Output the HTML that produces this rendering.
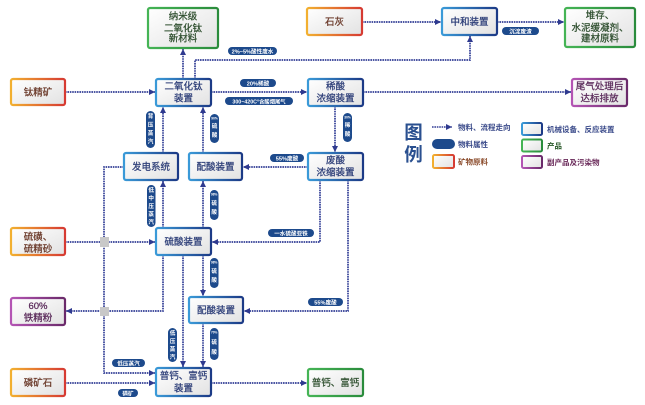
<!DOCTYPE html>
<html><head><meta charset="utf-8">
<style>
html,body{margin:0;padding:0;background:#fff;}
svg{display:block;}
.t{font-family:"Liberation Sans","Noto Sans CJK SC",sans-serif;}
</style></head>
<body>
<svg class="t" width="645" height="405" viewBox="0 0 645 405" xmlns="http://www.w3.org/2000/svg">
<defs>
<linearGradient id="gB" x1="0" y1="0" x2="1" y2="0"><stop offset="0" stop-color="#3a9ad8"/><stop offset="1" stop-color="#1c3a86"/></linearGradient>
<linearGradient id="gG" x1="0" y1="0" x2="1" y2="0"><stop offset="0" stop-color="#45b455"/><stop offset="1" stop-color="#2a8c3c"/></linearGradient>
<linearGradient id="gO" x1="0" y1="0" x2="1" y2="0"><stop offset="0" stop-color="#f2b030"/><stop offset="1" stop-color="#d63a32"/></linearGradient>
<linearGradient id="gP" x1="0" y1="0" x2="1" y2="0"><stop offset="0" stop-color="#b455b4"/><stop offset="1" stop-color="#6a2a6a"/></linearGradient>
<linearGradient id="gF" x1="0" y1="0" x2="1" y2="1"><stop offset="0" stop-color="#ffffff"/><stop offset="1" stop-color="#e2e2e2"/></linearGradient>
<marker id="a" viewBox="0 0 6 6" refX="6" refY="3" markerWidth="6" markerHeight="6" markerUnits="userSpaceOnUse" orient="auto"><path d="M0,0 L6,3 L0,6 z" fill="#2f3a8f"/></marker>
</defs>

<!-- connectors -->
<g fill="none" stroke="#333f96" stroke-width="1.7" stroke-dasharray="1.6 0.8" marker-end="url(#a)">
<path d="M65 92 H155"/>
<path d="M183 79 V49"/>
<path d="M195 79 V60 H470 V36"/>
<path d="M362 22 H441"/>
<path d="M497 22 H564"/>
<path d="M211 92 H307"/>
<path d="M363 92 H571"/>
<path d="M335 106 V152"/>
<path d="M308 167 H243"/>
<path d="M203 153 V107"/>
<path d="M163 153 V107"/>
<path d="M163 228 V181"/>
<path d="M203 228 V181"/>
<path d="M124 167 H104 V373 H155"/>
<path d="M65 242 H155"/>
<path d="M320 180 V242 H212"/>
<path d="M348 180 V311 H244"/>
<path d="M203 255 V296"/>
<path d="M163 255 V311 H66"/>
<path d="M183 255 V367"/>
<path d="M203 323 V367"/>
<path d="M65 383 H155"/>
<path d="M211 383 H307"/>
</g>
<rect x="100" y="237" width="9" height="10" fill="#c8c8c8"/>
<rect x="100" y="307" width="9" height="9" fill="#c8c8c8"/>

<!-- boxes -->
<g fill="url(#gF)" stroke-width="2.2">
<rect x="148" y="8" width="70" height="40" rx="2" stroke="url(#gG)"/>
<rect x="11" y="79" width="54" height="26" rx="2" stroke="url(#gO)"/>
<rect x="156" y="79" width="55" height="27" rx="2" stroke="url(#gB)"/>
<rect x="307" y="8" width="55" height="27" rx="2" stroke="url(#gO)"/>
<rect x="442" y="8" width="55" height="27" rx="2" stroke="url(#gB)"/>
<rect x="565" y="8" width="70" height="39" rx="2" stroke="url(#gG)"/>
<rect x="308" y="79" width="55" height="27" rx="2" stroke="url(#gB)"/>
<rect x="572" y="79" width="55" height="27" rx="2" stroke="url(#gP)"/>
<rect x="124" y="153" width="54" height="27" rx="2" stroke="url(#gB)"/>
<rect x="189" y="153" width="53" height="27" rx="2" stroke="url(#gB)"/>
<rect x="308" y="153" width="55" height="27" rx="2" stroke="url(#gB)"/>
<rect x="11" y="228" width="54" height="27" rx="2" stroke="url(#gO)"/>
<rect x="156" y="228" width="55" height="27" rx="2" stroke="url(#gB)"/>
<rect x="11" y="298" width="54" height="27" rx="2" stroke="url(#gP)"/>
<rect x="189" y="297" width="54" height="26" rx="2" stroke="url(#gB)"/>
<rect x="11" y="369" width="54" height="27" rx="2" stroke="url(#gO)"/>
<rect x="156" y="368" width="55" height="28" rx="2" stroke="url(#gB)"/>
<rect x="308" y="369" width="55" height="27" rx="2" stroke="url(#gG)"/>
</g>

<!-- box text -->
<g font-size="9.5" text-anchor="middle" stroke-width="0.25">
<g fill="#2e4e2e" stroke="#2e4e2e">
<text x="183" y="19.5">纳米级</text><text x="183" y="31.5">二氧化钛</text><text x="183" y="41.5">新材料</text>
<text x="600" y="18.5">堆存、</text><text x="600" y="31">水泥缓凝剂、</text><text x="600" y="41.5">建材原料</text>
<text x="335.5" y="386">普钙、富钙</text>
</g>
<g fill="#6b3a2a" stroke="#6b3a2a">
<text x="38" y="95.5">钛精矿</text>
<text x="334.5" y="25">石灰</text>
<text x="38" y="240">硫磺、</text><text x="38" y="252">硫精砂</text>
<text x="38" y="386">磷矿石</text>
</g>
<g fill="#5a2a5a" stroke="#5a2a5a">
<text x="599.5" y="89.5">尾气处理后</text><text x="599.5" y="101.5">达标排放</text>
<text x="38" y="309">60%</text><text x="38" y="321">铁精粉</text>
</g>
<g fill="#2d3e78" stroke="#2d3e78">
<text x="183.5" y="89.5">二氧化钛</text><text x="183.5" y="101.5">装置</text>
<text x="469.5" y="25">中和装置</text>
<text x="335.5" y="89.5">稀酸</text><text x="335.5" y="101.5">浓缩装置</text>
<text x="151" y="170">发电系统</text>
<text x="215.5" y="170">配酸装置</text>
<text x="335.5" y="163.5">废酸</text><text x="335.5" y="175.5">浓缩装置</text>
<text x="183.5" y="245">硫酸装置</text>
<text x="216" y="313.5">配酸装置</text>
<text x="183.5" y="379">普钙、富钙</text><text x="183.5" y="391.5">装置</text>
</g>
</g>

<!-- pills -->
<g fill="#1d4a8c">
<rect x="228" y="47" width="49" height="8" rx="4"/>
<rect x="502" y="27" width="37" height="8" rx="4"/>
<rect x="240" y="79" width="36" height="8" rx="4"/>
<rect x="225" y="97" width="68" height="8" rx="4"/>
<rect x="343" y="113" width="9" height="29" rx="4.5"/>
<rect x="270" y="154" width="34" height="8" rx="4"/>
<rect x="210" y="114" width="9" height="29" rx="4.5"/>
<rect x="146" y="111" width="9" height="37" rx="4.5"/>
<rect x="147" y="185" width="8.5" height="42" rx="4.2"/>
<rect x="210" y="190" width="8.5" height="30" rx="4.2"/>
<rect x="268" y="229" width="46" height="8" rx="4"/>
<rect x="308" y="298" width="35" height="8" rx="4"/>
<rect x="210" y="258" width="8.5" height="30" rx="4.2"/>
<rect x="168" y="328" width="9" height="34" rx="4.5"/>
<rect x="210" y="328" width="8.5" height="32" rx="4.2"/>
<rect x="112" y="359" width="33" height="8" rx="4"/>
<rect x="118" y="389" width="20" height="8" rx="4"/>
</g>
<g fill="#ffffff" font-size="5.6" font-weight="bold" text-anchor="middle">
<text x="252.5" y="53.3">2%~5%酸性废水</text>
<text x="520.5" y="33.3">沉淀废渣</text>
<text x="258" y="85.3">20%稀酸</text>
<text x="259" y="103.3" font-size="5.3">300~420C°含酸烟尾气</text>
<text x="287" y="160.3">55%废酸</text>
<text x="291" y="235.3">一水硫酸亚铁</text>
<text x="325.5" y="304.3">55%废酸</text>
<text x="128.5" y="365.3">低压蒸汽</text>
<text x="128" y="395.3">磷矿</text>
<!-- vertical -->
<g font-size="3.2"><text x="347.5" y="118.5">30%</text><text x="214.5" y="119.5">90%</text><text x="214.2" y="195.5">98%</text><text x="214.2" y="263.5">98%</text><text x="214.2" y="333.5">70%</text></g>
<text x="347.5" y="127">稀</text><text x="347.5" y="136">酸</text>
<text x="214.5" y="128">硫</text><text x="214.5" y="137">酸</text>
<text x="150.5" y="118">背</text><text x="150.5" y="126.5">压</text><text x="150.5" y="135">蒸</text><text x="150.5" y="143.5">汽</text>
<text x="151.2" y="192">低</text><text x="151.2" y="200">中</text><text x="151.2" y="208">压</text><text x="151.2" y="216">蒸</text><text x="151.2" y="224">汽</text>
<text x="214.2" y="205">硫</text><text x="214.2" y="214">酸</text>
<text x="214.2" y="273">硫</text><text x="214.2" y="282">酸</text>
<text x="172.5" y="335">低</text><text x="172.5" y="343">压</text><text x="172.5" y="351">蒸</text><text x="172.5" y="359">汽</text>
<text x="214.2" y="344">硫</text><text x="214.2" y="354">酸</text>
</g>

<!-- legend -->
<g font-weight="bold" fill="#2a5090" text-anchor="middle" font-size="18.5">
<text x="413.5" y="139">图</text>
<text x="413.5" y="161">例</text>
</g>
<path d="M432 127 H452" fill="none" stroke="#333f96" stroke-width="1.4" stroke-dasharray="1.6 0.8" marker-end="url(#a)"/>
<rect x="432" y="139" width="23" height="10" rx="5" fill="#1d4a8c"/>
<g fill="url(#gF)" stroke-width="2">
<rect x="433" y="155" width="21" height="13" rx="1.5" stroke="url(#gO)"/>
<rect x="522" y="123" width="20" height="12" rx="1.5" stroke="url(#gB)"/>
<rect x="522" y="139.5" width="20" height="12" rx="1.5" stroke="url(#gG)"/>
<rect x="522" y="156" width="20" height="12" rx="1.5" stroke="url(#gP)"/>
</g>
<g font-size="7.5" font-weight="bold">
<text x="458" y="130" fill="#3a4a8a">物料、流程走向</text>
<text x="458" y="147" fill="#3a4a8a">物料属性</text>
<text x="458" y="164.5" fill="#8a4a2a">矿物原料</text>
<text x="547" y="132" fill="#3a4a8a">机械设备、反应装置</text>
<text x="547" y="148.5" fill="#2a5a2a">产品</text>
<text x="547" y="165" fill="#6a2a5a">副产品及污染物</text>
</g>
</svg>
</body></html>
